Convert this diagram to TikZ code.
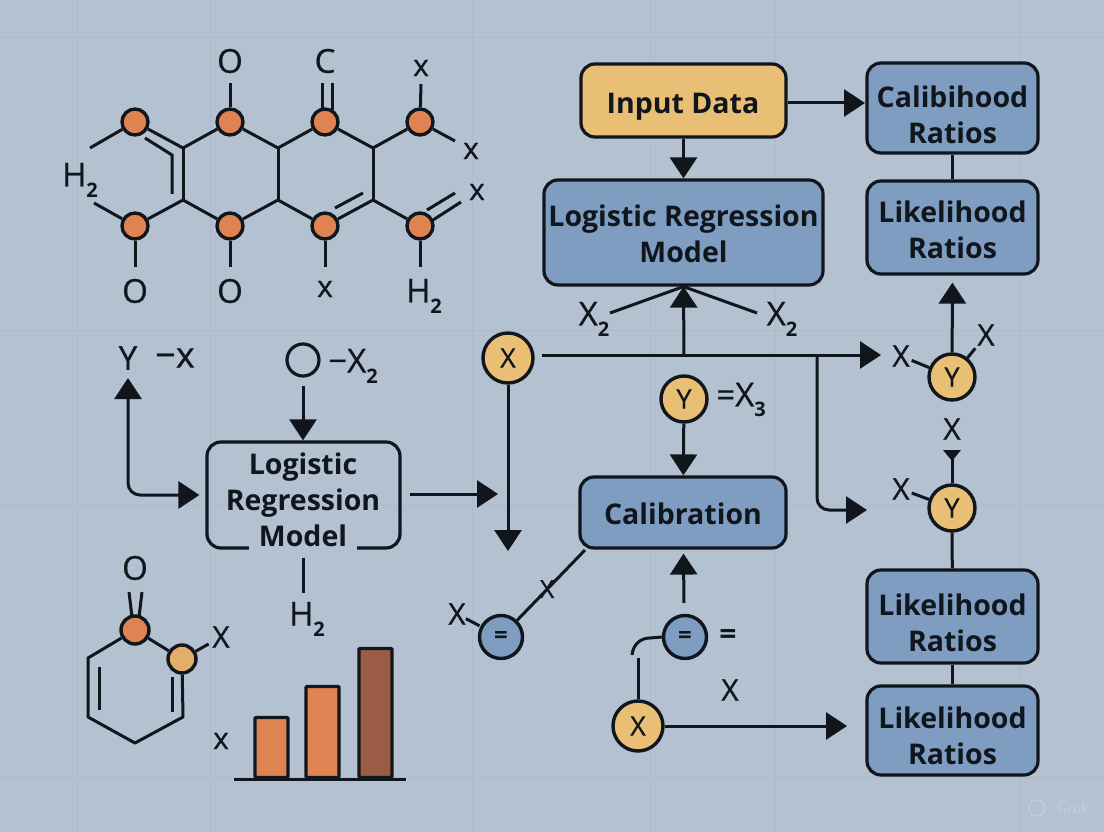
\documentclass[tikz,border=0pt]{standalone}
\usepackage{fontspec}
\setmainfont[UprightFeatures={FakeBold=0.6}]{Open Sans}
\usetikzlibrary{positioning,calc,arrows.meta}
\definecolor{bgcol}{HTML}{B3C1D1}
\definecolor{gridcol}{HTML}{ACBACA}
\definecolor{inkcol}{HTML}{11161D}
\definecolor{orangecol}{HTML}{DF8352}
\definecolor{browncol}{HTML}{9B5C45}
\definecolor{yellowcol}{HTML}{E8BF74}
\definecolor{bluecol}{HTML}{7E9DC1}
\definecolor{markcol}{HTML}{C3CEDB}
\newcommand{\lowtwo}[1]{\raisebox{-0.32em}{\fontsize{20}{20}\selectfont\bfseries #1}}
\newcommand{\fsz}[1]{\fontsize{#1}{36}\selectfont}

\begin{document}
\begin{tikzpicture}[x=1pt,y=-1pt,
    conn/.style={draw=inkcol,line width=3pt},
    arr/.style={conn,-{Triangle[length=21pt,width=27pt]}},
    atom/.style={circle,draw=inkcol,line width=3.4pt,fill=orangecol,minimum size=26pt,inner sep=0pt},
    yelnode/.style={circle,draw=inkcol,line width=3.4pt,fill=yellowcol,minimum size=46pt,inner sep=0pt,text=inkcol,font=\fsz{27}},
    bluenode/.style={circle,draw=inkcol,line width=3.4pt,fill=bluecol,minimum size=43pt,inner sep=0pt,text=inkcol,font=\fsz{24}\bfseries},
    box/.style={rectangle,rounded corners=14pt,draw=inkcol,line width=3.2pt,fill=bluecol,inner sep=0pt},
    boxtext/.style={text=inkcol,align=center,inner sep=0pt,font=\fsz{28.5}\bfseries},
    lbl/.style={text=inkcol,inner sep=0pt,font=\fsz{33}},
    smalllbl/.style={text=inkcol,inner sep=0pt,font=\fsz{30}},
    bar/.style={rectangle,rounded corners=1pt,draw=inkcol,line width=3.2pt,anchor=south,minimum width=33pt,inner sep=0pt}]

\fill[bgcol] (0,0) rectangle (1104,832);
\useasboundingbox (0,0) rectangle (1104,832);
\foreach \gx in {77,210,472,650,775,1020}
    \draw[gridcol,line width=0.8pt] (\gx,0) -- (\gx,832);
\foreach \gy in {37,330,505,777}
    \draw[gridcol,line width=0.8pt] (0,\gy) -- (1104,\gy);

\node[atom] (a1) at (135,122) {};
\node[atom] (a2) at (230,122) {};
\node[atom] (a3) at (325,122) {};
\node[atom] (a4) at (420,122) {};
\node[atom] (a5) at (135,226) {};
\node[atom] (a6) at (230,226) {};
\node[atom] (a7) at (325,226) {};
\node[atom] (a8) at (420,226) {};
\coordinate (j1) at (183,148);
\coordinate (j2) at (278,148);
\coordinate (j3) at (373,148);
\coordinate (j4) at (183,200);
\coordinate (j5) at (278,200);
\coordinate (j6) at (373,200);
\draw[conn,line join=round] (a1) -- (j1) -- (a2) -- (j2) -- (a3) -- (j3) -- (a4);
\draw[conn,line join=round] (a5) -- (j4) -- (a6) -- (j5) -- (a7) -- (j6) -- (a8);
\draw[conn] (j1) -- (j4) (j2) -- (j5) (j3) -- (j6);
\draw[conn] (145,138) -- (172,155) -- (172,194);
\draw[conn] (335,208) -- (363,193);

\node[lbl] (o1) at (230,61) {O};
\node[lbl] (c1) at (325,61) {C};
\node[smalllbl] (x1) at (421,68) {x};
\node[smalllbl] (x2) at (471,151) {x};
\node[smalllbl] (x3) at (477,192) {x};
\node[lbl] (h1) at (80,180) {H\lowtwo{2}};
\node[lbl] (o2) at (135,291) {O};
\node[lbl] (o3) at (230,291) {O};
\node[smalllbl] (x4) at (325,289) {x};
\node[lbl] (h2) at (424,296) {H\lowtwo{2}};
\draw[conn] (a1) -- (90,148);
\draw[conn] (a5) -- (94,203);
\draw[conn] (a2) -- (230,83);
\draw[conn] (322,110) -- (322,83) (332,110) -- (332,83);
\draw[conn] (a4) -- (421,84);
\draw[conn] (a4) -- (455,141);
\draw[conn] (427,210) -- (455,193) (433,220) -- (461,202);
\draw[conn] (a5) -- (135,267);
\draw[conn] (a6) -- (230,267);
\draw[conn] (a7) -- (325,267);
\draw[conn] (a8) -- (420,267);

\node[lbl] (ylab) at (128,358) {Y};
\node[smalllbl,font=\fsz{36}] (ylabx) at (175,358) {−x};
\node[circle,draw=inkcol,line width=3.2pt,minimum size=32pt,inner sep=0pt] (ring) at (303,360) {};
\node[lbl] (ringx) at (353,366) {−X\lowtwo{2}};
\node[box,fill=none,minimum width=193pt,minimum height=106pt] (lrmleft) at (303.5,495) {};
\node[boxtext] (lrmtext) at (303,485) {Logistic\\Regression};
\node[boxtext,fill=bgcol,inner xsep=10pt,minimum height=32pt] (lrmlast) at (303,536) {Model};
\node[lbl] (h3) at (307,619) {H\lowtwo{2}};
\coordinate (ytip) at (128,378);
\coordinate (lrmend) at (498,494);
\coordinate (h3top) at (303,593);
\draw[arr,shorten <=8pt] (ring) -- (lrmleft.north -| ring);
\draw[arr,{Triangle[length=21pt,width=27pt]}-{Triangle[length=21pt,width=27pt]},rounded corners=12pt,shorten >=6pt] (ytip) |- (lrmleft.west);
\draw[arr,shorten <=8pt] (lrmleft.east |- lrmend) -- (lrmend);
\draw[conn] (303,558) -- (h3top);

\node[yelnode,minimum size=50pt] (xa) at (508,358) {X};
\coordinate (xadown) at (508,551);
\coordinate (xaright) at (881,355);
\coordinate (brup) at (684,355);
\coordinate (brdn) at (817,355);
\coordinate (brtip) at (867,510);
\draw[arr] (xa) -- (xadown);
\draw[arr,shorten <=7pt] (xa.east |- xaright) -- (xaright);
\draw[arr,rounded corners=12pt] (brdn) |- (brtip);

\node[box,fill=yellowcol,minimum width=205pt,minimum height=73pt] (input) at (683.5,100.5) {};
\node[box,minimum width=279pt,minimum height=105pt] (lrm) at (683.5,232.5) {};
\node[box,minimum width=171pt,minimum height=90pt] (cal) at (952.5,108) {};
\node[box,minimum width=171pt,minimum height=93pt] (lik1) at (952.5,227.5) {};
\node[box,minimum width=171pt,minimum height=93pt] (lik2) at (952.5,616.5) {};
\node[box,minimum width=171pt,minimum height=89pt] (lik3) at (952.5,730.5) {};
\node[box,minimum width=206pt,minimum height=71pt] (calib) at (683,512.5) {};
\node[boxtext] (inputtext) at (683,107) {Input Data};
\node[boxtext] (lrmtop) at (683.5,234) {Logistic Regression\\Model};
\node[boxtext] (caltext) at (952.5,115) {Calibihood\\Ratios};
\node[boxtext] (lik1text) at (952.5,230) {Likelihood\\Ratios};
\node[boxtext] (lik2text) at (952.5,623) {Likelihood\\Ratios};
\node[boxtext] (lik3text) at (952.5,736) {Likelihood\\Ratios};
\node[boxtext] (calibtext) at (683,514) {Calibration};
\coordinate (calin) at (865,103);
\draw[arr] (input.east |- calin) -- (calin);
\draw[arr] (input) -- (lrm);
\draw[conn] (cal) -- (lik1);
\draw[conn] (lik2) -- (lik3);
\draw[arr] (brup) -- (lrm.south);

\node[lbl] (xl) at (594,319) {X\lowtwo{2}};
\node[lbl] (xr) at (782,319) {X\lowtwo{2}};
\coordinate (xlend) at (610,313);
\coordinate (xrend) at (757,313);
\draw[conn] (lrm.south) -- (xlend);
\draw[conn] (lrm.south) -- (xrend);

\node[yelnode] (yb) at (684,399) {Y};
\node[lbl] (ybx) at (741,400) {=X\lowtwo{3}};
\draw[arr] (yb) -- (calib);

\node[bluenode] (eqa) at (501,637) {=};
\node[bluenode] (eqb) at (685,637) {=};
\node[lbl,font=\fsz{30}\bfseries] (eqbl) at (728,637) {=};
\node[smalllbl,font=\fsz{25}] (xcross) at (547,589) {X};
\node[smalllbl] (xeq) at (457,614) {X};
\node[smalllbl] (xbl) at (730,690) {X};
\node[yelnode,minimum size=50pt] (xb) at (638,726) {X};
\coordinate (xbend) at (847,726);
\coordinate (calup) at (684,603);
\coordinate (xbtop) at (638,658);
\coordinate (cvend) at (632,655);
\coordinate (calfoot) at (585,550);
\draw[conn] (calfoot) -- (eqa);
\draw[conn,shorten <=1pt] (eqa) -- (xeq);
\draw[arr,shorten >=4pt] (calup) -- (calib);
\draw[arr] (xb) -- (xbend);
\draw[conn] (xb) -- (xbtop);
\draw[conn] (eqb.west) -- (650,638) .. controls (640,638) and (633,645) .. (cvend);

\node[yelnode] (yc) at (952,377) {Y};
\node[smalllbl] (ycl) at (901,356) {X};
\node[smalllbl] (ycr) at (986,335) {X};
\node[yelnode] (yd) at (952,508) {Y};
\node[smalllbl] (ydt) at (952,429) {X};
\node[smalllbl] (ydl) at (901,489) {X};
\draw[arr,shorten >=7pt] (yc) -- (lik1.south);
\draw[conn,shorten >=2pt] (yc) -- (ycl);
\draw[conn,shorten >=3pt] (yc) -- (ycr);
\draw[conn,shorten >=2pt] (yd) -- (ydl);
\draw[conn] (yd) -- (952,458);
\fill[inkcol] (943,450) -- (961,450) -- (952,461) -- cycle;
\draw[conn] (yd) -- (lik2);

\node[lbl] (o4) at (135,568) {O};
\node[atom,minimum size=28pt] (r1) at (135,630) {};
\node[atom,minimum size=28pt,fill=yellowcol!70!orangecol] (r2) at (182,659) {};
\node[smalllbl] (xr2) at (221,637) {X};
\coordinate (r3) at (88,658);
\coordinate (r4) at (88,717);
\coordinate (r5) at (135,743);
\coordinate (r6) at (183,717);
\draw[conn,line join=round] (r1) -- (r3) -- (r4) -- (r5) -- (r6) -- (r2);
\draw[conn] (r1) -- (r2);
\draw[conn] (99,667) -- (99,710) (172,677) -- (172,712);
\draw[conn] (129,592) -- (132,617) (142,592) -- (139,617);
\draw[conn,shorten >=4pt] (r2) -- (xr2);

\node[bar,fill=orangecol,minimum height=60pt] (b1) at (271.5,779) {};
\node[bar,fill=orangecol,minimum height=91pt] (b2) at (322.5,779) {};
\node[bar,fill=browncol,minimum height=129pt] (b3) at (375.5,779) {};
\draw[conn] (234,779) -- (406,779);
\node[smalllbl] (xbar) at (221,741) {x};

\node[circle,draw=markcol,line width=1.4pt,minimum size=16pt,inner sep=0pt] (grokmark) at (1037,808) {};
\node[text=markcol,inner sep=0pt,font=\fsz{17}\sffamily] (grok) at (1073,808) {Grok};
\end{tikzpicture}
\end{document}
